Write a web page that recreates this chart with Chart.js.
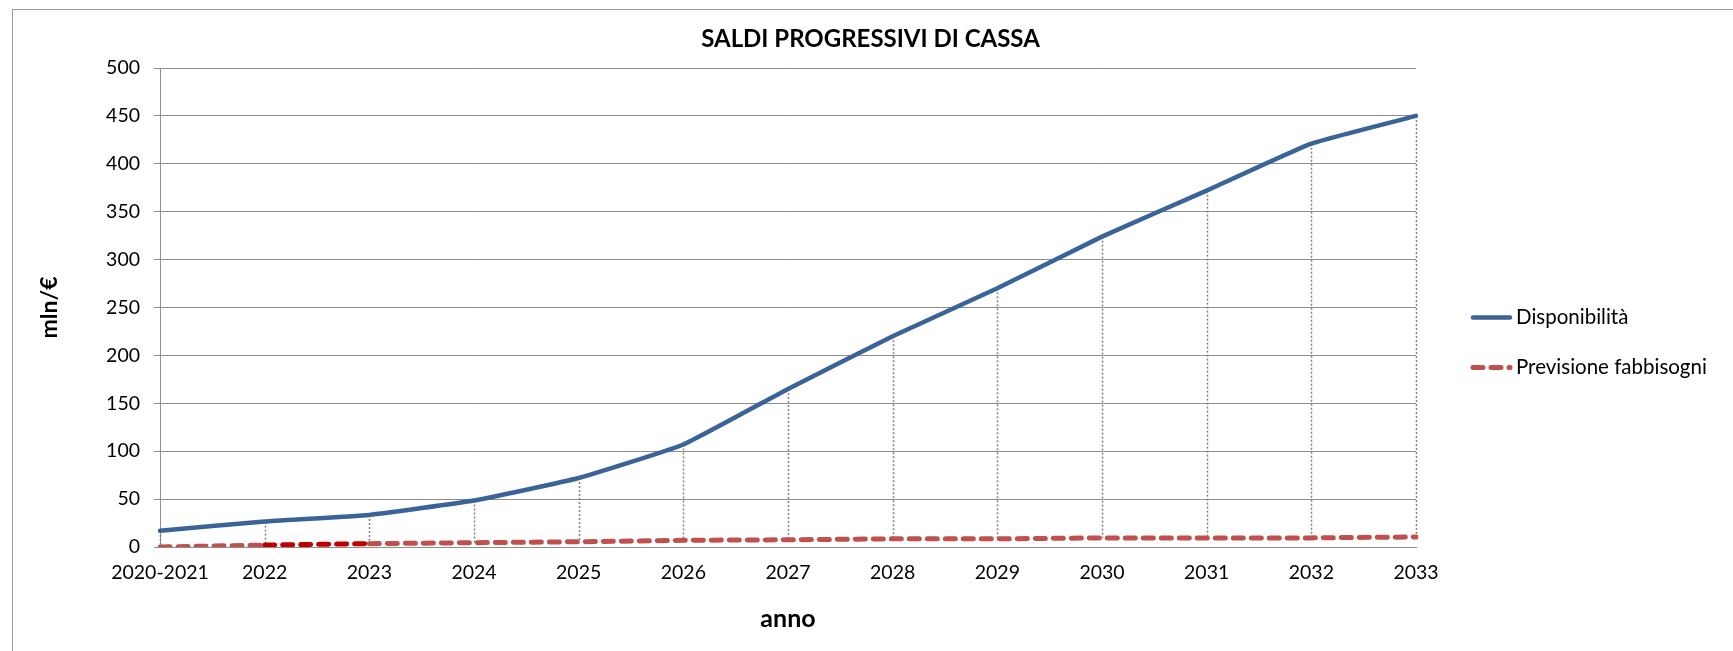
<!DOCTYPE html>
<html>
<head>
<meta charset="utf-8">
<script src="https://cdn.jsdelivr.net/npm/chart.js@4/dist/chart.umd.min.js"></script>
<style>
  html, body { margin: 0; padding: 0; background: #fff; }
  #wrap { width: 1733px; height: 651px; }
</style>
</head>
<body>
<div id="wrap"><canvas id="cassaChart"></canvas></div>
<script>
// categorie (anni) e serie
const anni = ['2020-2021','2022','2023','2024','2025','2026','2027','2028','2029','2030','2031','2032','2033'];
const disponibilita = [17, 26.5, 33.5, 48.5, 72, 107, 165, 220, 270, 324, 372, 421, 450];
const fabbisogni = [0, 2, 3.5, 4.5, 5.5, 7, 7.5, 8.5, 8.5, 9.5, 9.5, 9.5, 10.5];
const yMin = 0, yMax = 500, yStep = 50;
const titolo = 'SALDI PROGRESSIVI DI CASSA';

const FONT = 'Lato, "Open Sans", sans-serif';

// cornice grigia + titolo centrato sull'intera area del grafico
const framePlugin = {
  id: 'frame',
  beforeDraw(chart) {
    const ctx = chart.ctx;
    ctx.save();
    ctx.strokeStyle = '#9a9a9a';
    ctx.lineWidth = 1;
    ctx.strokeRect(12.5, 9.5, chart.width + 50, chart.height + 50);
    ctx.fillStyle = '#000';
    ctx.font = 'bold 24px ' + FONT;
    ctx.textAlign = 'center';
    ctx.textBaseline = 'middle';
    ctx.fillText(titolo, chart.width / 2 + 4, 39);
    ctx.restore();
  }
};

// linee di proiezione tratteggiate tra le due serie
const dropLines = {
  id: 'dropLines',
  beforeDatasetsDraw(chart) {
    const ctx = chart.ctx;
    const hi = chart.getDatasetMeta(0).data;
    const lo = chart.getDatasetMeta(1).data;
    ctx.save();
    ctx.strokeStyle = '#808080';
    ctx.lineWidth = 1.5;
    ctx.setLineDash([2, 2]);
    for (let i = 0; i < hi.length; i++) {
      ctx.beginPath();
      ctx.moveTo(Math.round(hi[i].x) + 0.5, hi[i].y);
      ctx.lineTo(Math.round(hi[i].x) + 0.5, lo[i].y);
      ctx.stroke();
    }
    ctx.restore();
  }
};

// legenda a destra disegnata dai dataset
const sideLegend = {
  id: 'sideLegend',
  afterDraw(chart) {
    const {ctx, chartArea} = chart;
    const x0 = chartArea.right + 54;
    const midY = (chartArea.top + chartArea.bottom) / 2;
    ctx.save();
    ctx.font = '20.5px ' + FONT;
    ctx.textBaseline = 'middle';
    chart.data.datasets.forEach((ds, i) => {
      const y = midY + 10 + i * 50;
      ctx.strokeStyle = ds.borderColor;
      ctx.lineWidth = ds.borderWidth;
      ctx.lineCap = ds.borderCapStyle || 'butt';
      ctx.setLineDash(ds.borderDash || []);
      ctx.beginPath();
      ctx.moveTo(x0 + 3, y);
      ctx.lineTo(x0 + 40, y);
      ctx.stroke();
      ctx.setLineDash([]);
      ctx.fillStyle = '#000';
      ctx.fillText(ds.label, x0 + 46, y);
    });
    ctx.restore();
  }
};

new Chart('cassaChart', {
  type: 'line',
  data: {
    labels: anni,
    datasets: [
      {
        label: 'Disponibilità',
        data: disponibilita,
        borderColor: '#3A6497',
        borderWidth: 4.5,
        pointRadius: 0,
        tension: 0.12,
        borderCapStyle: 'round'
      },
      {
        label: 'Previsione fabbisogni',
        data: fabbisogni,
        borderColor: '#C0504D',
        borderWidth: 5,
        borderDash: [10, 8],
        borderCapStyle: 'round',
        pointRadius: 0,
        segment: {
          borderColor: c => c.p0DataIndex === 1 ? '#C00000' : undefined
        }
      }
    ]
  },
  options: {
    responsive: true,
    maintainAspectRatio: false,
    animation: false,
    layout: { padding: { top: 68, right: 317, bottom: 0, left: 0 } },
    plugins: {
      legend: { display: false },
      tooltip: { enabled: false },
      title: { display: false }
    },
    scales: {
      x: {
        offset: false,
        grid: { display: false, drawTicks: false },
        border: { display: true, color: '#8e8e8e', width: 1 },
        ticks: { color: '#000', font: { family: FONT, size: 19.5 }, padding: 14, maxRotation: 0, autoSkip: false },
        title: { display: true, text: 'anno', color: '#000', font: { family: FONT, size: 25, weight: 'bold' }, padding: { top: 0, bottom: 17 } },
        afterFit(scale) { scale.height = 104; }
      },
      y: {
        min: yMin,
        max: yMax,
        ticks: { stepSize: yStep, color: '#000', font: { family: FONT, size: 19.5 }, padding: 14 },
        grid: { color: '#8e8e8e', lineWidth: 1, drawTicks: true, tickLength: 6 },
        border: { display: true, color: '#8e8e8e', width: 1 },
        title: { display: true, text: 'mln/€', color: '#000', font: { family: FONT, size: 23, weight: 'bold' }, padding: { top: 36, bottom: 0 } },
        afterFit(scale) { scale.width = 160; }
      }
    }
  },
  plugins: [framePlugin, dropLines, sideLegend]
});
</script>
</body>
</html>
